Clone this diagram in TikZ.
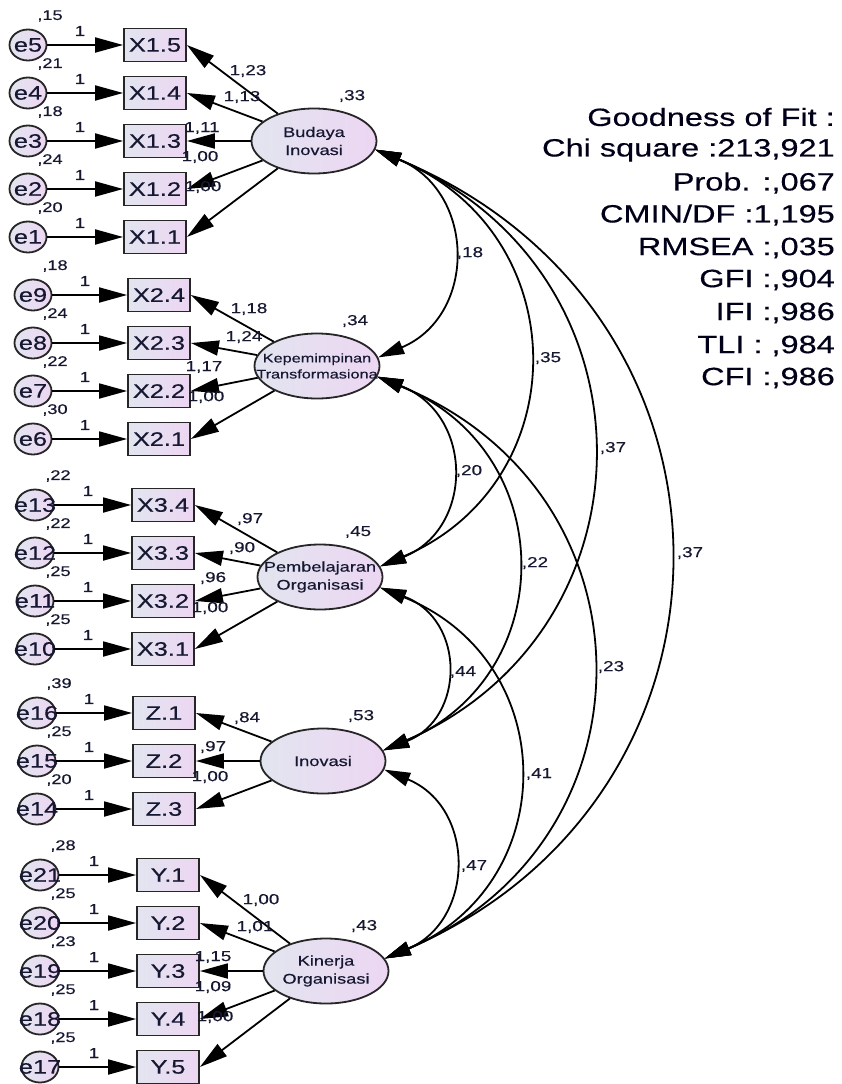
\documentclass[tikz,border=0pt]{standalone}
\usepackage{fontspec}
\setmainfont{Liberation Sans}[FakeStretch=1.3,FakeBold=0.4]
\usetikzlibrary{shapes.geometric,arrows.meta}
\definecolor{txt}{RGB}{22,24,50}
\definecolor{fillL}{RGB}{226,229,240}
\definecolor{fillR}{RGB}{237,214,242}
\newcommand{\zb}[1]{\makebox[0pt][c]{#1}}
\begin{document}
\begin{tikzpicture}[x=1pt,y=-1pt,
  obs/.style={draw=black!85,line width=1.8pt,left color=fillL,right color=fillR,minimum width=62pt,minimum height=33pt,inner sep=0pt,font=\fontsize{19.5}{22}\selectfont,text=txt},
  err/.style={ellipse,draw=black!85,line width=1.8pt,left color=fillL,right color=fillR,minimum width=37pt,minimum height=31pt,inner sep=0pt,font=\fontsize{19.5}{22}\selectfont,text=txt},
  lat/.style={ellipse,draw=black!85,line width=1.8pt,left color=fillL,right color=fillR,minimum width=125pt,minimum height=65pt,inner sep=0pt,align=center,font=\fontsize{14}{18}\selectfont,text=txt},
  arr/.style={line width=1.8pt,-{Triangle[length=28pt,width=15pt]}},
  cov/.style={line width=1.8pt,{Triangle[length=26pt,width=14pt]}-{Triangle[length=26pt,width=14pt]}},
  lbl/.style={inner sep=0pt,font=\fontsize{14.5}{16}\selectfont,text=txt},
  elbl/.style={inner sep=0pt,font=\fontsize{14}{16}\selectfont,text=txt},
  gof/.style={anchor=east,inner sep=0pt,font=\fontsize{25}{28}\selectfont,text=black!90!blue}
]
\useasboundingbox (0,0) rectangle (842,1084);

% latent variables
\node[lat] (bud) at (314,141) {\zb{Budaya}\\\zb{Inovasi}};
\node[lat,font=\fontsize{12.5}{16}\selectfont] (kep) at (317,366) {\zb{Kepemimpinan}\\\zb{Transformasiona}};
\node[lat] (pem) at (320,577) {\zb{Pembelajaran}\\\zb{Organisasi}};
\node[lat] (ino) at (323,761) {\zb{Inovasi}};
\node[lat] (kin) at (326,971) {\zb{Kinerja}\\\zb{Organisasi}};

\node[lbl] (vbud) at (352,96) {,33};
\node[lbl] (vkep) at (355,321) {,34};
\node[lbl] (vpem) at (358,532) {,45};
\node[lbl] (vino) at (361,716) {,53};
\node[lbl] (vkin) at (364,926) {,43};

% indicators with errors
\foreach \nm/\t/\e/\y/\v in {x15/X1.5/e5/45/15, x14/X1.4/e4/93/21, x13/X1.3/e3/141/18, x12/X1.2/e2/189/24, x11/X1.1/e1/237/20}{
  \node[err] (\e) at (28,\y) {\zb{\e}};
  \node[obs] (\nm) at (155,\y) {\zb{\t}};
  \draw[arr] (\e) -- (\nm);
  \node[elbl] (v\e) at (50,\y-29) {,\v};
  \node[lbl] (o\e) at (80,\y-14) {1};
  \draw[arr] (bud) -- (\nm.east);
}
\foreach \nm/\t/\e/\y/\v in {x24/X2.4/e9/295/18, x23/X2.3/e8/343/24, x22/X2.2/e7/391/22, x21/X2.1/e6/439/30}{
  \node[err] (\e) at (33,\y) {\zb{\e}};
  \node[obs] (\nm) at (159,\y) {\zb{\t}};
  \draw[arr] (\e) -- (\nm);
  \node[elbl] (v\e) at (55,\y-29) {,\v};
  \node[lbl] (o\e) at (85,\y-14) {1};
  \draw[arr] (kep) -- (\nm.east);
}
\foreach \nm/\t/\e/\y/\v in {x34/X3.4/e13/505/22, x33/X3.3/e12/553/22, x32/X3.2/e11/601/25, x31/X3.1/e10/649/25}{
  \node[err] (\e) at (35,\y) {\zb{\e}};
  \node[obs] (\nm) at (163,\y) {\zb{\t}};
  \draw[arr] (\e) -- (\nm);
  \node[elbl] (v\e) at (58,\y-29) {,\v};
  \node[lbl] (o\e) at (88,\y-14) {1};
  \draw[arr] (pem) -- (\nm.east);
}
\foreach \nm/\t/\e/\y/\v in {z1/Z.1/e16/713/39, z2/Z.2/e15/761/25, z3/Z.3/e14/809/20}{
  \node[err] (\e) at (37,\y) {\zb{\e}};
  \node[obs] (\nm) at (164,\y) {\zb{\t}};
  \draw[arr] (\e) -- (\nm);
  \node[elbl] (v\e) at (59,\y-29) {,\v};
  \node[lbl] (o\e) at (89,\y-14) {1};
  \draw[arr] (ino) -- (\nm.east);
}
\foreach \nm/\t/\e/\y/\v in {y1/Y.1/e21/875/28, y2/Y.2/e20/923/25, y3/Y.3/e19/971/23, y4/Y.4/e18/1019/25, y5/Y.5/e17/1067/25}{
  \node[err] (\e) at (40,\y) {\zb{\e}};
  \node[obs] (\nm) at (168,\y) {\zb{\t}};
  \draw[arr] (\e) -- (\nm);
  \node[elbl] (v\e) at (63,\y-29) {,\v};
  \node[lbl] (o\e) at (94,\y-14) {1};
  \draw[arr] (kin) -- (\nm.east);
}

% loading labels
\node[lbl] (l15) at (248,71) {1,23};
\node[lbl] (l14) at (242,97) {1,13};
\node[lbl] (l13) at (202,128) {1,11};
\node[lbl] (l12) at (200,157) {1,00};
\node[lbl] (l11) at (203,187) {1,00};
\node[lbl] (l24) at (249,309) {1,18};
\node[lbl] (l23) at (244,337) {1,24};
\node[lbl] (l22) at (204,367) {1,17};
\node[lbl] (l21) at (206,397) {1,00};
\node[lbl] (l34) at (250,519) {,97};
\node[lbl] (l33) at (242,548) {,90};
\node[lbl] (l32) at (213,578) {,96};
\node[lbl] (l31) at (210,608) {1,00};
\node[lbl] (lz1) at (247,718) {,84};
\node[lbl] (lz2) at (213,747) {,97};
\node[lbl] (lz3) at (210,777) {1,00};
\node[lbl] (ly1) at (261,900) {1,00};
\node[lbl] (ly2) at (255,927) {1,01};
\node[lbl] (ly3) at (213,957) {1,15};
\node[lbl] (ly4) at (213,987) {1,09};
\node[lbl] (ly5) at (215,1017) {1,00};

% covariances
\draw[cov] (bud.-8) .. controls +(101,42) and +(99,-42) .. (kep.8);
\draw[cov] (bud.-8) .. controls +(202,84) and +(197,-84) .. (pem.10);
\draw[cov] (bud.-8) .. controls +(287,121) and +(278,-121) .. (ino.10);
\draw[cov] (bud.-8) .. controls +(389,162) and +(378,-162) .. (kin.12);
\draw[cov] (kep.-10) .. controls +(97,38) and +(94,-38) .. (pem.10);
\draw[cov] (kep.-10) .. controls +(184,75) and +(177,-75) .. (ino.10);
\draw[cov] (kep.-10) .. controls +(284,116) and +(275,-116) .. (kin.12);
\draw[cov] (pem.-10) .. controls +(86,32) and +(82,-32) .. (ino.10);
\draw[cov] (pem.-10) .. controls +(183,74) and +(177,-74) .. (kin.12);
\draw[cov] (ino.-8) .. controls +(92,38) and +(90,-38) .. (kin.12);

\node[lbl] (c1) at (470,253) {,18};
\node[lbl] (c2) at (548,358) {,35};
\node[lbl] (c3) at (613,448) {,37};
\node[lbl] (c4) at (690,553) {,37};
\node[lbl] (c5) at (469,471) {,20};
\node[lbl] (c6) at (535,563) {,22};
\node[lbl] (c7) at (611,667) {,23};
\node[lbl] (c8) at (463,672) {,44};
\node[lbl] (c9) at (539,774) {,41};
\node[lbl] (c10) at (474,866) {,47};

% goodness of fit
\node[gof] (g1) at (835,117) {Goodness of Fit :};
\node[gof] (g2) at (835,150) {Chi square :213,921};
\node[gof] (g3) at (835,183) {Prob. :,067};
\node[gof] (g4) at (835,215) {CMIN/DF :1,195};
\node[gof] (g5) at (835,248) {RMSEA :,035};
\node[gof] (g6) at (835,280) {GFI :,904};
\node[gof] (g7) at (835,313) {IFI :,986};
\node[gof] (g8) at (835,346) {TLI : ,984};
\node[gof] (g9) at (835,378) {CFI :,986};
\end{tikzpicture}
\end{document}
